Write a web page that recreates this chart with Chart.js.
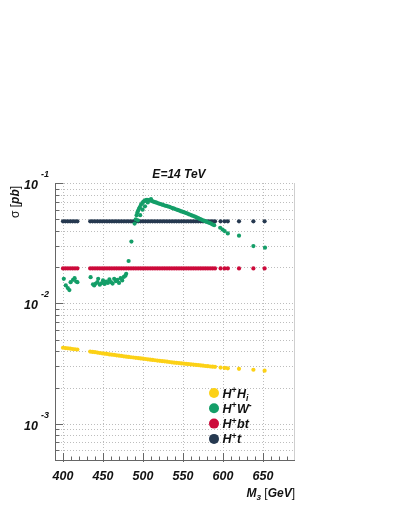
<!DOCTYPE html>
<html>
<head>
<meta charset="utf-8">
<script src="https://cdn.jsdelivr.net/npm/chart.js@4.4.1/dist/chart.umd.min.js"></script>
<style>
  html, body { margin: 0; padding: 0; background: #fff; }
  #wrap { width: 399px; height: 516px; }
</style>
</head>
<body>
<div id="wrap"><canvas id="c"></canvas></div>
<script>
// scan masses shared by H+t, H+bt and H+Hi (GeV)
const massScan = [
  400, 403, 406, 409, 412, 415, 418,
  434, 437, 440, 443, 446, 449, 452, 455, 458, 461, 464, 467, 470, 473, 476, 479,
  482, 485, 488, 491, 494, 497, 500, 503, 506, 509, 512, 515, 518, 521, 524, 527,
  530, 533, 536, 539, 542, 545, 548, 551, 554, 557, 560, 563, 566, 569, 572, 575,
  578, 581, 584, 587, 590,
  597, 602, 606, 620, 638, 652
];
// sigma(H+ t) [pb]
const sigmaHt = [
  0.048, 0.048, 0.048, 0.048, 0.048, 0.048, 0.048,
  0.048, 0.048, 0.048, 0.048, 0.048, 0.048, 0.048, 0.048, 0.048, 0.048, 0.048, 0.048, 0.048, 0.048, 0.048, 0.048,
  0.048, 0.048, 0.048, 0.048, 0.048, 0.048, 0.048, 0.048, 0.048, 0.048, 0.048, 0.048, 0.048, 0.048, 0.048, 0.048,
  0.048, 0.048, 0.048, 0.048, 0.048, 0.048, 0.048, 0.048, 0.048, 0.048, 0.048, 0.048, 0.048, 0.048, 0.048, 0.048,
  0.048, 0.048, 0.048, 0.048, 0.048,
  0.048, 0.048, 0.048, 0.048, 0.048, 0.048
];
// sigma(H+ b t) [pb]
const sigmaHbt = [
  0.0195, 0.0195, 0.0195, 0.0195, 0.0195, 0.0195, 0.0195,
  0.0195, 0.0195, 0.0195, 0.0195, 0.0195, 0.0195, 0.0195, 0.0195, 0.0195, 0.0195, 0.0195, 0.0195, 0.0195, 0.0195, 0.0195, 0.0195,
  0.0195, 0.0195, 0.0195, 0.0195, 0.0195, 0.0195, 0.0195, 0.0195, 0.0195, 0.0195, 0.0195, 0.0195, 0.0195, 0.0195, 0.0195, 0.0195,
  0.0195, 0.0195, 0.0195, 0.0195, 0.0195, 0.0195, 0.0195, 0.0195, 0.0195, 0.0195, 0.0195, 0.0195, 0.0195, 0.0195, 0.0195, 0.0195,
  0.0195, 0.0195, 0.0195, 0.0195, 0.0195,
  0.0195, 0.0195, 0.0195, 0.0195, 0.0195, 0.0195
];
// sigma(H+ Hi) [pb]
const sigmaHHi = [
  0.00428, 0.00425, 0.00423, 0.00421, 0.00418, 0.00416, 0.00414,
  0.00398, 0.00395, 0.00393, 0.00390, 0.00387, 0.00385, 0.00382, 0.00380, 0.00377, 0.00375, 0.00373, 0.00370, 0.00368, 0.00366, 0.00363, 0.00361,
  0.00359, 0.00357, 0.00355, 0.00353, 0.00351, 0.00349, 0.00347, 0.00345, 0.00343, 0.00341, 0.00339, 0.00337, 0.00335, 0.00333, 0.00331, 0.00330,
  0.00328, 0.00326, 0.00324, 0.00322, 0.00321, 0.00319, 0.00317, 0.00316, 0.00314, 0.00313, 0.00311, 0.00310, 0.00308, 0.00307, 0.00305, 0.00304,
  0.00302, 0.00301, 0.00299, 0.00298, 0.00297,
  0.00293, 0.00291, 0.00289, 0.00286, 0.00281, 0.00276
];
// H+ W- has its own scan points
const massHW = [
  401, 403.5, 406, 408, 409.5, 412.5, 414.5, 416.5, 418,
  434.5, 437.5, 439, 441, 443, 444, 446, 448, 450, 452, 454, 456, 458, 460, 462, 464, 466,
  468, 470, 472, 474, 476, 478, 479, 482, 485.5,
  489.5, 491, 492, 493, 494, 495, 496, 497.5, 499, 500.5, 502, 503.5,
  505, 507, 509, 511, 513, 515, 517, 519, 521, 523, 525, 527, 529, 531, 533, 535, 537, 539,
  541, 543, 545, 547, 549, 551, 553, 555, 557, 559, 561, 563, 565, 567, 569, 571, 573, 575,
  577, 579, 581, 583, 585, 587, 589,
  596.5, 599.5, 602, 606, 620, 638, 652.5,
  493.5, 496.5, 499.5, 502.5, 506, 510
];
const sigmaHW = [
  0.0160, 0.0141, 0.0134, 0.0129, 0.0150, 0.0157, 0.0162, 0.0152, 0.0150,
  0.0165, 0.0144, 0.0141, 0.0146, 0.0150, 0.0160, 0.0143, 0.0147, 0.0155, 0.0145, 0.0152, 0.0148, 0.0158, 0.0150, 0.0146, 0.0160, 0.0153,
  0.0157, 0.0148, 0.0162, 0.0155, 0.0166, 0.0170, 0.0176, 0.0225, 0.0326,
  0.046, 0.050, 0.054, 0.057, 0.059, 0.061, 0.063, 0.066, 0.068, 0.070, 0.071, 0.072,
  0.0725, 0.0722, 0.0718, 0.0710, 0.0700, 0.0693, 0.0686, 0.0678, 0.0671, 0.0665, 0.0658, 0.0650, 0.0645, 0.0640, 0.0634, 0.0626, 0.0618, 0.0612,
  0.0605, 0.0598, 0.0592, 0.0585, 0.0578, 0.0572, 0.0565, 0.0560, 0.0552, 0.0545, 0.0538, 0.0532, 0.0525, 0.0518, 0.0510, 0.0503, 0.0497, 0.0490,
  0.0484, 0.0478, 0.0472, 0.0466, 0.0460, 0.0452, 0.0446,
  0.0425, 0.0410, 0.0399, 0.0381, 0.0365, 0.0299, 0.0290,
  0.049, 0.054, 0.060, 0.064, 0.0690, 0.0735
];

const xTicks = [400, 450, 500, 550, 600, 650];
const xMinorTicks = [390, 410, 420, 430, 440, 460, 470, 480, 490, 510, 520, 530, 540, 560, 570, 580, 590, 610, 620, 630, 640, 660, 670, 680];
const yDecades = [-1, -2, -3];
const yMinor = [0.0005, 0.0006, 0.0007, 0.0008, 0.0009, 0.002, 0.003, 0.004, 0.005, 0.006, 0.007, 0.008, 0.009,
                0.02, 0.03, 0.04, 0.05, 0.06, 0.07, 0.08, 0.09];

const colHHi = '#fcd116';
const colHW = '#149e68';
const colHbt = '#cc0a3a';
const colHt = '#263950';

const F = '"Liberation Sans", Arial, sans-serif';

function pts(xs, ys) {
  return xs.map((x, i) => ({ x: x, y: ys[i] }));
}

// grid, axes, ticks and all the labels
const decorPlugin = {
  id: 'decor',
  beforeDatasetsDraw(chart) {
    const ctx = chart.ctx, a = chart.chartArea;
    const xs = chart.scales.x, ys = chart.scales.y;
    ctx.save();
    ctx.strokeStyle = '#bdbdbd';
    ctx.lineWidth = 1;
    ctx.setLineDash([1, 2]);
    xTicks.forEach(v => {
      const px = Math.round(xs.getPixelForValue(v)) + 0.5;
      ctx.beginPath(); ctx.moveTo(px, a.top); ctx.lineTo(px, a.bottom); ctx.stroke();
    });
    yMinor.concat(yDecades.map(e => Math.pow(10, e))).forEach(v => {
      const py = Math.round(ys.getPixelForValue(v)) + 0.5;
      ctx.beginPath(); ctx.moveTo(a.left, py); ctx.lineTo(a.right, py); ctx.stroke();
    });
    ctx.setLineDash([]);
    ctx.strokeStyle = '#cfcfcf';
    ctx.beginPath(); ctx.moveTo(a.right - 0.5, a.top); ctx.lineTo(a.right - 0.5, a.bottom); ctx.stroke();
    ctx.restore();
  },
  afterDraw(chart) {
    const ctx = chart.ctx, a = chart.chartArea;
    const xs = chart.scales.x, ys = chart.scales.y;
    ctx.save();
    // axis lines
    ctx.strokeStyle = '#666';
    ctx.lineWidth = 1;
    ctx.beginPath();
    ctx.moveTo(a.left + 0.5, a.top); ctx.lineTo(a.left + 0.5, a.bottom + 0.5); ctx.lineTo(a.right, a.bottom + 0.5);
    ctx.stroke();
    // ticks on x
    xTicks.forEach(v => {
      const px = Math.round(xs.getPixelForValue(v)) + 0.5;
      ctx.beginPath(); ctx.moveTo(px, a.bottom + 2); ctx.lineTo(px, a.bottom - 7); ctx.stroke();
    });
    xMinorTicks.forEach(v => {
      const px = Math.round(xs.getPixelForValue(v)) + 0.5;
      ctx.beginPath(); ctx.moveTo(px, a.bottom); ctx.lineTo(px, a.bottom - 3.5); ctx.stroke();
    });
    // ticks on y
    yDecades.forEach(e => {
      const py = Math.round(ys.getPixelForValue(Math.pow(10, e))) + 0.5;
      ctx.beginPath(); ctx.moveTo(a.left, py); ctx.lineTo(a.left + 8, py); ctx.stroke();
    });
    yMinor.forEach(v => {
      const py = Math.round(ys.getPixelForValue(v)) + 0.5;
      ctx.beginPath(); ctx.moveTo(a.left, py); ctx.lineTo(a.left + 4.5, py); ctx.stroke();
    });

    ctx.fillStyle = '#111';
    // x tick labels
    ctx.font = 'bold italic 12.5px ' + F;
    ctx.textAlign = 'center';
    ctx.textBaseline = 'alphabetic';
    xTicks.forEach(v => {
      ctx.fillText(String(v), xs.getPixelForValue(v), 480);
    });
    // y tick labels 10^-n
    yDecades.forEach(e => {
      const py = ys.getPixelForValue(Math.pow(10, e));
      ctx.font = 'bold italic 12.5px ' + F;
      ctx.textAlign = 'right';
      ctx.fillText('10', 38, py + 6);
      ctx.font = 'bold italic 9px ' + F;
      ctx.textAlign = 'left';
      ctx.fillText(String(e), 41, py - 6);
    });

    // title
    ctx.font = 'bold italic 12px ' + F;
    ctx.textAlign = 'center';
    ctx.fillText('E=14 TeV', 179, 178);

    // x axis title, right aligned to the frame
    const xt = [
      ['M', 'bold italic 12px ', 0],
      ['3', 'bold italic 8px ', 3],
      [' [', '12px ', 0],
      ['GeV', 'bold italic 12px ', 0],
      [']', '12px ', 0]
    ];
    let w = 0;
    xt.forEach(p => { ctx.font = p[1] + F; w += ctx.measureText(p[0]).width; });
    let cx = a.right - w;
    ctx.textAlign = 'left';
    xt.forEach(p => {
      ctx.font = p[1] + F;
      ctx.fillText(p[0], cx, 497 + p[2]);
      cx += ctx.measureText(p[0]).width;
    });

    // y axis title, rotated
    ctx.save();
    ctx.translate(19, 218);
    ctx.rotate(-Math.PI / 2);
    ctx.font = '12px ' + F;
    ctx.fillText('\u03c3 [', 0, 0);
    let yx = ctx.measureText('\u03c3 [').width;
    ctx.font = 'bold italic 12px ' + F;
    ctx.fillText('pb', yx, 0);
    yx += ctx.measureText('pb').width;
    ctx.font = '12px ' + F;
    ctx.fillText(']', yx, 0);
    ctx.restore();

    // legend
    const legend = [
      [colHHi, [['H', ''], ['+', 'sup'], ['H', ''], ['i', 'sub']]],
      [colHW, [['H', ''], ['+', 'sup'], ['W', ''], ['-', 'sup']]],
      [colHbt, [['H', ''], ['+', 'sup'], ['bt', '']]],
      [colHt, [['H', ''], ['+', 'sup'], ['t', '']]]
    ];
    legend.forEach((row, i) => {
      const ly = 393 + i * 15.3;
      ctx.fillStyle = row[0];
      ctx.beginPath(); ctx.arc(214, ly, 5, 0, Math.PI * 2); ctx.fill();
      ctx.fillStyle = '#111';
      let lx = 222.5;
      row[1].forEach(p => {
        let dy = 0;
        if (p[1] === 'sup') { ctx.font = 'bold italic 8.5px ' + F; dy = -4.5; }
        else if (p[1] === 'sub') { ctx.font = 'bold italic 8.5px ' + F; dy = 3; }
        else { ctx.font = 'bold italic 12.5px ' + F; }
        ctx.fillText(p[0], lx, ly + 4.5 + dy);
        lx += ctx.measureText(p[0]).width + (p[1] === 'sup' ? 0.5 : 0);
      });
    });
    ctx.restore();
  }
};

const pr = 2.1;
new Chart(document.getElementById('c'), {
  type: 'scatter',
  data: {
    datasets: [
      { label: 'H+W-', data: pts(massHW, sigmaHW), backgroundColor: colHW, order: 0 },
      { label: 'H+Hi', data: pts(massScan, sigmaHHi), backgroundColor: colHHi, order: 1 },
      { label: 'H+bt', data: pts(massScan, sigmaHbt), backgroundColor: colHbt, order: 2 },
      { label: 'H+t', data: pts(massScan, sigmaHt), backgroundColor: colHt, order: 3 }
    ].map(d => Object.assign(d, { pointRadius: pr, pointHoverRadius: pr, borderWidth: 0, pointBorderWidth: 0 }))
  },
  options: {
    responsive: true,
    maintainAspectRatio: false,
    animation: false,
    events: [],
    layout: { autoPadding: false, padding: { left: 0, top: 183, right: 104, bottom: 0 } },
    scales: {
      x: {
        type: 'linear', min: 390, max: 690,
        ticks: { display: false },
        grid: { display: false },
        border: { display: false },
        afterFit: s => { s.height = 56; }
      },
      y: {
        type: 'logarithmic', min: 0.0005, max: 0.1,
        ticks: { display: false },
        grid: { display: false },
        border: { display: false },
        afterFit: s => { s.width = 55; }
      }
    },
    plugins: { legend: { display: false }, tooltip: { enabled: false } }
  },
  plugins: [decorPlugin]
});
</script>
</body>
</html>
